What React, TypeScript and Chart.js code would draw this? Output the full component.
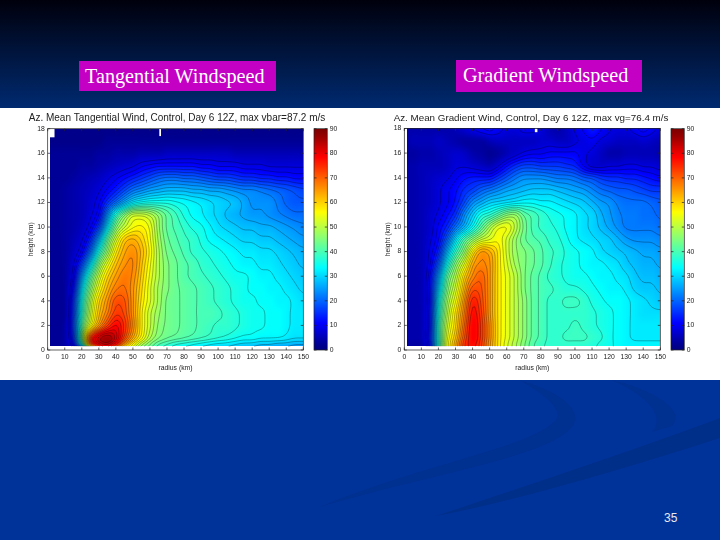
import { useEffect, useRef } from "react";
import { Chart, registerables } from "chart.js";

Chart.register(...registerables);

const radii = [1.5, 5, 10, 15, 20, 25, 30, 35, 40, 45, 50, 55, 60, 65, 70, 75, 80, 85, 90, 95, 100, 105, 110, 115, 120, 125, 130, 135, 140, 145, 150];
const heights = [0.3, 0.5, 1, 2, 3, 4, 5, 6, 7, 8, 9, 10, 11, 12, 13, 14, 15, 16, 17, 18];
const colorLevels = [0, 10, 20, 30, 40, 50, 60, 70, 80, 90];
const radiusTicks = [0, 10, 20, 30, 40, 50, 60, 70, 80, 90, 100, 110, 120, 130, 140, 150];

// wind in m/s, one row per entry of heights, one column per entry of radii
const tangentialRows = [
  [2, 2, 3, 8, 24, 55, 72, 76, 68, 58, 52, 45, 42, 38, 36, 34, 33, 32, 31, 30, 30, 29, 28, 28, 27, 26, 26, 25, 25, 24, 24],
  [2, 2, 4, 12, 38, 70, 82, 85, 78, 65, 57, 50, 45, 41, 39, 37, 36, 35, 34, 33, 32, 32, 31, 30, 30, 29, 29, 28, 28, 27, 27],
  [2, 2, 4, 16, 46, 74, 84, 87, 82, 72, 63, 56, 49, 45, 43, 42, 41, 40, 39, 38, 37, 36, 35, 34, 34, 33, 33, 33, 32, 31, 31],
  [2, 2, 4, 18, 42, 56, 66, 74, 79, 74, 66, 57, 51, 46, 44, 43, 42, 41, 40, 39, 38, 38, 37, 36, 35, 35, 34, 34, 33, 32, 32],
  [2, 2, 3, 17, 38, 52, 62, 68, 74, 72, 65, 57, 51, 47, 44, 43, 42, 41, 40, 40, 39, 38, 37, 36, 35, 35, 34, 34, 33, 32, 32],
  [2, 2, 3, 16, 36, 50, 60, 66, 72, 71, 65, 58, 53, 48, 44, 43, 42, 41, 40, 39, 38, 37, 36, 35, 35, 34, 34, 33, 33, 32, 31],
  [2, 2, 3, 13, 32, 46, 56, 63, 68, 69, 65, 59, 53, 48, 45, 43, 42, 41, 40, 39, 38, 37, 36, 35, 34, 34, 33, 33, 32, 31, 30],
  [2, 2, 3, 10, 26, 41, 52, 60, 65, 68, 66, 60, 54, 49, 45, 43, 41, 40, 39, 38, 37, 36, 35, 35, 34, 33, 33, 32, 31, 30, 29],
  [2, 2, 3, 8, 18, 32, 46, 55, 62, 66, 67, 61, 55, 49, 45, 43, 41, 40, 38, 37, 36, 35, 34, 33, 33, 32, 32, 31, 30, 29, 28],
  [2, 2, 3, 6, 11, 22, 37, 48, 58, 64, 66, 62, 56, 49, 44, 42, 40, 38, 37, 36, 35, 34, 33, 32, 32, 31, 31, 30, 29, 28, 27],
  [2, 2, 3, 5, 8, 15, 28, 43, 53, 61, 63, 60, 55, 48, 43, 41, 39, 38, 36, 34, 33, 32, 31, 30, 30, 29, 29, 28, 27, 26, 25],
  [2, 2, 3, 4, 6, 10, 18, 33, 46, 52, 56, 57, 54, 47, 42, 40, 38, 36, 35, 33, 31, 30, 29, 28, 28, 27, 27, 26, 25, 24, 23],
  [2, 2, 3, 4, 5, 8, 12, 25, 38, 46, 52, 52, 50, 46, 42, 39, 36, 34, 33, 31, 30, 28, 27, 26, 25, 25, 24, 23, 22, 21, 21],
  [2, 2, 3, 4, 5, 7, 10, 16, 22, 28, 33, 35, 36, 36, 36, 35, 34, 33, 32, 31, 30, 29, 28, 26, 24, 24, 24, 22, 20, 19, 19],
  [2, 2, 3, 4, 5, 6, 8, 11, 14, 18, 22, 24, 26, 27, 28, 28, 28, 27, 27, 26, 26, 25, 24, 23, 23, 22, 21, 20, 19, 18, 17],
  [2, 2, 2, 3, 4, 5, 6, 8, 10, 12, 14, 16, 18, 20, 21, 21, 20, 20, 19, 18, 17, 17, 16, 15, 15, 14, 14, 13, 13, 12, 12],
  [2, 2, 2, 2, 3, 3, 4, 5, 6, 7, 8, 10, 11, 12, 12, 12, 12, 12, 11, 11, 10, 10, 10, 9, 9, 9, 8, 8, 8, 8, 8],
  [2, 2, 2, 2, 2, 2, 3, 3, 4, 4, 4, 5, 5, 5, 6, 6, 6, 6, 6, 6, 6, 6, 5, 5, 5, 5, 5, 5, 5, 5, 5],
  [1, 1, 1, 1, 1, 1, 1, 2, 2, 2, 2, 2, 2, 2, 2, 2, 2, 2, 2, 2, 2, 2, 2, 2, 2, 2, 2, 2, 2, 2, 2],
  [1, 1, 1, 1, 1, 1, 1, 1, 1, 1, 1, 1, 1, 1, 1, 1, 1, 1, 1, 1, 1, 1, 1, 1, 1, 1, 1, 1, 1, 1, 1],
];

const gradientRows = [
  [3, 3, 4, 13, 38, 55, 64, 74, 77, 73, 65, 58, 53, 49, 45, 41, 39, 38, 38, 38, 38, 37, 37, 36, 35, 34, 33, 33, 33, 33, 33],
  [3, 3, 4, 14, 38, 55, 64, 74, 78, 73, 65, 58, 53, 49, 45, 41, 39, 38, 38, 38, 38, 38, 37, 36, 35, 34, 33, 33, 33, 33, 33],
  [4, 4, 5, 15, 38, 54, 62, 72, 79, 74, 66, 58, 54, 50, 46, 42, 40, 38, 38, 39, 39, 39, 38, 37, 35, 34, 33, 32, 32, 32, 32],
  [4, 4, 5, 14, 38, 52, 60, 70, 79, 74, 66, 58, 54, 50, 46, 42, 40, 38, 38, 38, 39, 38, 37, 36, 35, 34, 33, 32, 32, 32, 32],
  [4, 4, 5, 14, 36, 50, 59, 68, 78, 73, 65, 58, 54, 50, 46, 42, 40, 38, 38, 38, 38, 38, 37, 36, 35, 34, 33, 32, 31, 31, 31],
  [4, 4, 5, 13, 34, 48, 56, 66, 76, 72, 65, 58, 54, 50, 46, 42, 40, 38, 38, 39, 39, 38, 36, 35, 34, 34, 33, 32, 31, 30, 29],
  [4, 4, 5, 13, 30, 45, 53, 63, 72, 71, 65, 58, 54, 50, 45, 42, 40, 39, 38, 37, 37, 36, 35, 34, 33, 33, 32, 30, 29, 29, 28],
  [4, 4, 5, 12, 26, 42, 50, 60, 67, 70, 65, 58, 54, 50, 45, 42, 40, 38, 37, 36, 35, 35, 34, 33, 33, 32, 31, 29, 28, 28, 27],
  [4, 4, 5, 10, 20, 35, 46, 54, 64, 67, 65, 58, 53, 48, 45, 43, 41, 39, 37, 36, 35, 34, 33, 33, 32, 31, 29, 28, 27, 27, 26],
  [4, 4, 5, 9, 15, 28, 39, 47, 58, 65, 63, 58, 52, 47, 45, 43, 41, 39, 38, 36, 35, 34, 33, 31, 30, 29, 28, 27, 26, 26, 25],
  [4, 4, 5, 8, 12, 21, 32, 41, 47, 52, 54, 56, 52, 47, 43, 41, 40, 38, 37, 35, 33, 32, 31, 30, 29, 27, 25, 24, 24, 24, 23],
  [4, 4, 5, 7, 11, 15, 22, 28, 35, 42, 49, 54, 55, 50, 44, 40, 38, 37, 36, 34, 33, 31, 30, 28, 26, 24, 22, 22, 22, 22, 21],
  [4, 4, 5, 7, 9, 12, 16, 24, 30, 36, 38, 42, 46, 47, 42, 40, 38, 36, 35, 34, 33, 31, 30, 27, 25, 23, 22, 22, 21, 21, 20],
  [4, 4, 5, 6, 8, 10, 13, 18, 24, 27, 30, 31, 32, 33, 34, 34, 33, 33, 32, 31, 30, 29, 27, 25, 24, 22, 21, 21, 21, 20, 19],
  [4, 4, 5, 6, 8, 10, 12, 15, 17, 20, 22, 24, 26, 27, 28, 29, 29, 29, 28, 27, 26, 25, 23, 21, 20, 19, 19, 18, 17, 16, 16],
  [4, 4, 5, 6, 7, 8, 10, 12, 13, 13, 13, 16, 19, 22, 24, 24, 24, 23, 22, 22, 21, 19, 18, 16, 15, 15, 14, 14, 13, 12, 11],
  [4, 4, 5, 5, 5, 6, 8, 8, 7, 6, 5, 8, 12, 15, 17, 17, 16, 16, 16, 15, 14, 10, 7, 7, 8, 8, 9, 9, 8, 8, 7],
  [3, 3, 4, 4, 5, 6, 7, 6, 4, 3, 2, 3, 5, 7, 9, 10, 10, 11, 11, 11, 11, 9, 8, 6, 4, 4, 5, 5, 5, 5, 4],
  [4, 5, 5, 5, 6, 5, 4, 3, 3, 3, 5, 6, 6, 6, 6, 6, 7, 7, 6, 6, 8, 9, 10, 8, 7, 6, 6, 6, 7, 6, 5],
  [4, 4, 4, 4, 4, 4, 5, 7, 9, 11, 12, 10, 8, 8, 10, 10, 8, 5, 4, 6, 9, 11, 13, 11, 9, 8, 8, 10, 12, 10, 8],
];

// missing data at the top of each plot: r0, r1, z0, z1
const tangentialGaps = [[0, 4, 17.3, 18], [65.5, 66.5, 17.4, 18]];
const gradientGaps = [[76.5, 78, 17.7, 18]];

function jet(v: number) {
  const t = Math.max(0, Math.min(1, v / 90));
  const c = (x: number) => Math.round(255 * Math.max(0, Math.min(1, 1.5 - Math.abs(4 * t - x))));
  return [c(3), c(2), c(1)];
}

function fracIndex(arr: number[], v: number) {
  if (v <= arr[0]) return 0;
  for (let i = 0; i < arr.length - 1; i++) {
    if (v <= arr[i + 1]) return i + (v - arr[i]) / (arr[i + 1] - arr[i]);
  }
  return arr.length - 1;
}

function cubic(get: (i: number) => number, n: number, t: number) {
  const i = Math.min(Math.floor(t), n - 2);
  const f = t - i;
  const p0 = get(Math.max(i - 1, 0));
  const p1 = get(i);
  const p2 = get(i + 1);
  const p3 = get(Math.min(i + 2, n - 1));
  const v = p1 + 0.5 * f * (p2 - p0 + f * (2 * p0 - 5 * p1 + 4 * p2 - p3 + f * (3 * (p1 - p2) + p3 - p0)));
  return Math.max(Math.min(p1, p2), Math.min(Math.max(p1, p2), v));
}

// softens the upsampled grid so contours do not kink at the grid lines
function blurField(field: number[][], radius: number) {
  const h = field.length;
  const w = field[0].length;
  const horiz = field.map((line) =>
    line.map((_, i) => {
      let sum = 0;
      let n = 0;
      for (let k = Math.max(0, i - radius); k <= Math.min(w - 1, i + radius); k++) {
        sum += line[k];
        n++;
      }
      return sum / n;
    })
  );
  return horiz.map((line, j) =>
    line.map((_, i) => {
      let sum = 0;
      let n = 0;
      for (let k = Math.max(0, j - radius); k <= Math.min(h - 1, j + radius); k++) {
        sum += horiz[k][i];
        n++;
      }
      return sum / n;
    })
  );
}

// fills the plot from the dataset's grid and draws contours over it
const heatField = {
  id: "heatField",
  beforeDatasetsDraw(chart: any) {
    const ds = chart.data.datasets[0];
    const { rows, xs, ys, contourStep, gaps } = ds;
    const sx = chart.scales.x;
    const sy = chart.scales.y;
    const x0 = sx.getPixelForValue(xs[0]);
    const x1 = sx.getPixelForValue(xs[xs.length - 1]);
    const yB = sy.getPixelForValue(ys[0]);
    const yT = sy.getPixelForValue(ys[ys.length - 1]);
    const w = Math.ceil(x1 - x0);
    const h = Math.ceil(yB - yT);

    let field: number[][] = [];
    for (let j = 0; j <= h; j++) {
      const zi = fracIndex(ys, sy.getValueForPixel(yT + (j * (yB - yT)) / h));
      const line: number[] = [];
      for (let i = 0; i <= w; i++) {
        const ri = fracIndex(xs, sx.getValueForPixel(x0 + (i * (x1 - x0)) / w));
        line.push(cubic((k) => cubic((m) => rows[k][m], xs.length, ri), ys.length, zi));
      }
      field.push(line);
    }
    if (contourStep) field = blurField(field, 1);

    const off = document.createElement("canvas");
    off.width = w;
    off.height = h;
    const octx = off.getContext("2d")!;
    const img = octx.createImageData(w, h);
    for (let j = 0; j < h; j++) {
      for (let i = 0; i < w; i++) {
        const [r, g, b] = jet(field[j][i]);
        const p = (j * w + i) * 4;
        img.data[p] = r;
        img.data[p + 1] = g;
        img.data[p + 2] = b;
        img.data[p + 3] = 255;
      }
    }
    octx.putImageData(img, 0, 0);

    const ctx = chart.ctx;
    ctx.save();
    ctx.drawImage(off, x0, yT, x1 - x0, yB - yT);

    if (contourStep) {
      const soft = blurField(field, 3);
      const px = (i: number) => x0 + (i * (x1 - x0)) / w;
      const py = (j: number) => yT + (j * (yB - yT)) / h;
      ctx.strokeStyle = "rgba(0,0,0,0.55)";
      ctx.lineWidth = 0.55;
      ctx.beginPath();
      const stride = 2;
      for (let j = 0; j + stride <= h; j += stride) {
        for (let i = 0; i + stride <= w; i += stride) {
          const a = soft[j][i];
          const b = soft[j][i + stride];
          const c = soft[j + stride][i + stride];
          const d = soft[j + stride][i];
          const lo = Math.min(a, b, c, d);
          const hi = Math.max(a, b, c, d);
          for (let l = Math.ceil((lo - 0.5) / contourStep) * contourStep + 0.5; l <= hi; l += contourStep) {
            if (l < 8) continue;
            const pts: number[][] = [];
            if (a < l !== b < l) pts.push([px(i + (stride * (l - a)) / (b - a)), py(j)]);
            if (b < l !== c < l) pts.push([px(i + stride), py(j + (stride * (l - b)) / (c - b))]);
            if (d < l !== c < l) pts.push([px(i + (stride * (l - d)) / (c - d)), py(j + stride)]);
            if (a < l !== d < l) pts.push([px(i), py(j + (stride * (l - a)) / (d - a))]);
            if (pts.length >= 2) {
              ctx.moveTo(pts[0][0], pts[0][1]);
              ctx.lineTo(pts[1][0], pts[1][1]);
            }
            if (pts.length === 4) {
              ctx.moveTo(pts[2][0], pts[2][1]);
              ctx.lineTo(pts[3][0], pts[3][1]);
            }
          }
        }
      }
      ctx.stroke();
    }

    ctx.fillStyle = "#fff";
    (gaps || []).forEach((g: number[]) => {
      const gx = sx.getPixelForValue(g[0]);
      const gy = sy.getPixelForValue(g[3]);
      ctx.fillRect(gx, gy, sx.getPixelForValue(g[1]) - gx, sy.getPixelForValue(g[2]) - gy);
    });
    ctx.restore();
  },
  afterDatasetsDraw(chart: any) {
    const { left, right, top, bottom } = chart.chartArea;
    const ctx = chart.ctx;
    ctx.save();
    ctx.strokeStyle = "#222";
    ctx.lineWidth = 0.7;
    ctx.strokeRect(left, top, right - left, bottom - top);
    ctx.beginPath();
    const len = 2.5;
    if (chart.scales.x.options.display) {
      chart.scales.x.ticks.forEach((t: any) => {
        const x = chart.scales.x.getPixelForValue(t.value);
        ctx.moveTo(x, bottom);
        ctx.lineTo(x, bottom - len);
        ctx.moveTo(x, top);
        ctx.lineTo(x, top + len);
      });
    }
    chart.scales.y.ticks.forEach((t: any) => {
      const y = chart.scales.y.getPixelForValue(t.value);
      ctx.moveTo(left, y);
      ctx.lineTo(left + len, y);
      ctx.moveTo(right, y);
      ctx.lineTo(right - len, y);
    });
    ctx.stroke();
    ctx.restore();
  },
};

const tickFont = { family: "'Liberation Sans', Arial, sans-serif", size: 6.8 };
const noGrid = { display: false, drawTicks: false };

type PanelProps = {
  title: string;
  titleSize: number;
  rows: number[][];
  gaps: number[][];
  canvasLeft: number;
  canvasWidth: number;
  plotLeft: number;
  plotRight: number;
  yTitleX: number;
  barLeft: number;
};

function WindPanel({ title, titleSize, rows, gaps, canvasLeft, canvasWidth, plotLeft, plotRight, yTitleX, barLeft }: PanelProps) {
  const plotRef = useRef<HTMLCanvasElement>(null);
  const barRef = useRef<HTMLCanvasElement>(null);

  useEffect(() => {
    if (!plotRef.current || !barRef.current) return;

    const points = rows.flatMap((row, j) => row.map((v, i) => ({ x: radii[i], y: heights[j], v })));

    const plot = new Chart(plotRef.current, {
      type: "scatter",
      data: {
        datasets: [
          {
            label: title,
            data: points,
            pointRadius: 0,
            rows,
            xs: radii,
            ys: heights,
            contourStep: 2,
            gaps,
          } as any,
        ],
      },
      options: {
        responsive: false,
        animation: false,
        devicePixelRatio: 1,
        layout: { padding: 0 },
        plugins: {
          legend: { display: false },
          tooltip: { enabled: false },
          title: {
            display: true,
            text: title,
            color: "#222",
            font: { family: "'Liberation Sans', Arial, sans-serif", size: titleSize, weight: "normal", lineHeight: 1.1 },
            padding: { top: 4.8, bottom: 4.9 },
          },
        },
        scales: {
          x: {
            type: "linear",
            min: 0,
            max: 150,
            grid: noGrid,
            border: { display: false },
            afterBuildTicks: (s: any) => {
              s.ticks = radiusTicks.map((value) => ({ value }));
            },
            afterFit: (s: any) => {
              s.height = 30;
            },
            ticks: { font: tickFont, color: "#222", padding: 3, maxRotation: 0, autoSkip: false },
            title: {
              display: true,
              text: "radius (km)",
              color: "#222",
              font: tickFont,
              padding: { top: 0, bottom: 8 },
            },
          },
          y: {
            type: "linear",
            min: 0,
            max: 18,
            grid: noGrid,
            border: { display: false },
            afterFit: (s: any) => {
              s.width = plotLeft;
            },
            ticks: { stepSize: 2, font: tickFont, color: "#222", padding: 3 },
            title: {
              display: true,
              text: "height (km)",
              color: "#222",
              font: tickFont,
              padding: { top: yTitleX - 4, bottom: 0 },
            },
          },
          // keeps the room right of the plot inside the title's box
          spacer: {
            type: "linear",
            position: "right",
            grid: noGrid,
            border: { display: false },
            ticks: { display: false },
            afterFit: (s: any) => {
              s.width = canvasWidth - plotRight;
            },
          },
        },
      },
      plugins: [heatField],
    } as any);

    const bar = new Chart(barRef.current, {
      type: "scatter",
      data: {
        datasets: [
          {
            label: "m/s",
            data: colorLevels.map((v) => ({ x: 0, y: v })),
            pointRadius: 0,
            rows: colorLevels.map((v) => [v, v]),
            xs: [0, 1],
            ys: colorLevels,
            contourStep: 0,
            gaps: [],
          } as any,
        ],
      },
      options: {
        responsive: false,
        animation: false,
        devicePixelRatio: 1,
        layout: { padding: { left: 6, right: 14, top: 8.7, bottom: 10 } },
        plugins: { legend: { display: false }, tooltip: { enabled: false } },
        scales: {
          x: { type: "linear", min: 0, max: 1, display: false },
          y: {
            type: "linear",
            position: "right",
            min: 0,
            max: 90,
            grid: noGrid,
            border: { display: false },
            afterFit: (s: any) => {
              s.width = 16.7;
            },
            ticks: { stepSize: 10, font: tickFont, color: "#222", padding: 2.5 },
          },
        },
      },
      plugins: [heatField],
    } as any);

    return () => {
      plot.destroy();
      bar.destroy();
    };
  }, []);

  return (
    <>
      <canvas
        ref={plotRef}
        width={canvasWidth}
        height={272}
        style={{ position: "absolute", left: canvasLeft, top: 108, width: canvasWidth, height: 272, filter: "blur(0.35px)" }}
      />
      <canvas
        ref={barRef}
        width={50}
        height={240}
        style={{ position: "absolute", left: barLeft, top: 120, width: 50, height: 240, filter: "blur(0.35px)" }}
      />
    </>
  );
}

const labelStyle = {
  position: "absolute" as const,
  background: "#c400c4",
  color: "#fff",
  fontFamily: "'Liberation Serif', 'Times New Roman', serif",
  fontSize: 20.2,
  lineHeight: "31px",
  whiteSpace: "nowrap" as const,
  boxSizing: "border-box" as const,
};

export default function App() {
  return (
    <div
      style={{
        position: "absolute",
        left: 0,
        top: 0,
        width: 720,
        height: 540,
        overflow: "hidden",
        background: "linear-gradient(#00000c 0px, #002a70 108px, #003399 200px, #003399 540px)",
      }}
    >
      <svg width={720} height={540} style={{ position: "absolute", left: 0, top: 0 }}>
        <path d="M519 380 C556 390 582 408 574 424 C556 456 430 474 317 508 C420 464 530 448 556 420 C564 408 540 392 519 380 Z" fill="#003090" />
        <path d="M611 380 C650 388 688 410 672 426 L652 432 C668 414 640 392 611 380 Z" fill="#003090" />
        <path d="M720 418 L720 438 C620 470 520 500 436 516 C520 488 640 448 720 418 Z" fill="#002f8a" />
      </svg>
      <div style={{ ...labelStyle, left: 79, top: 61, width: 197, height: 30, paddingLeft: 6 }}>Tangential Windspeed</div>
      <div style={{ ...labelStyle, left: 456, top: 60, width: 186, height: 32, paddingLeft: 7 }}>Gradient Windspeed</div>
      <div style={{ position: "absolute", left: 0, top: 108, width: 720, height: 272, background: "#fff" }} />
      <WindPanel
        title="Az. Mean Tangential Wind, Control, Day 6 12Z, max vbar=87.2 m/s"
        titleSize={10}
        rows={tangentialRows}
        gaps={tangentialGaps}
        canvasLeft={0}
        canvasWidth={354}
        plotLeft={47.7}
        plotRight={303.3}
        yTitleX={30.7}
        barLeft={308}
      />
      <WindPanel
        title="Az. Mean Gradient Wind, Control, Day 6 12Z, max vg=76.4 m/s"
        titleSize={9.8}
        rows={gradientRows}
        gaps={gradientGaps}
        canvasLeft={360}
        canvasWidth={342}
        plotLeft={44.3}
        plotRight={300.3}
        yTitleX={28}
        barLeft={665}
      />
      <div
        style={{
          position: "absolute",
          left: 664,
          top: 511,
          color: "#e8e8f0",
          fontFamily: "'Liberation Sans', Arial, sans-serif",
          fontSize: 12,
        }}
      >
        35
      </div>
    </div>
  );
}
